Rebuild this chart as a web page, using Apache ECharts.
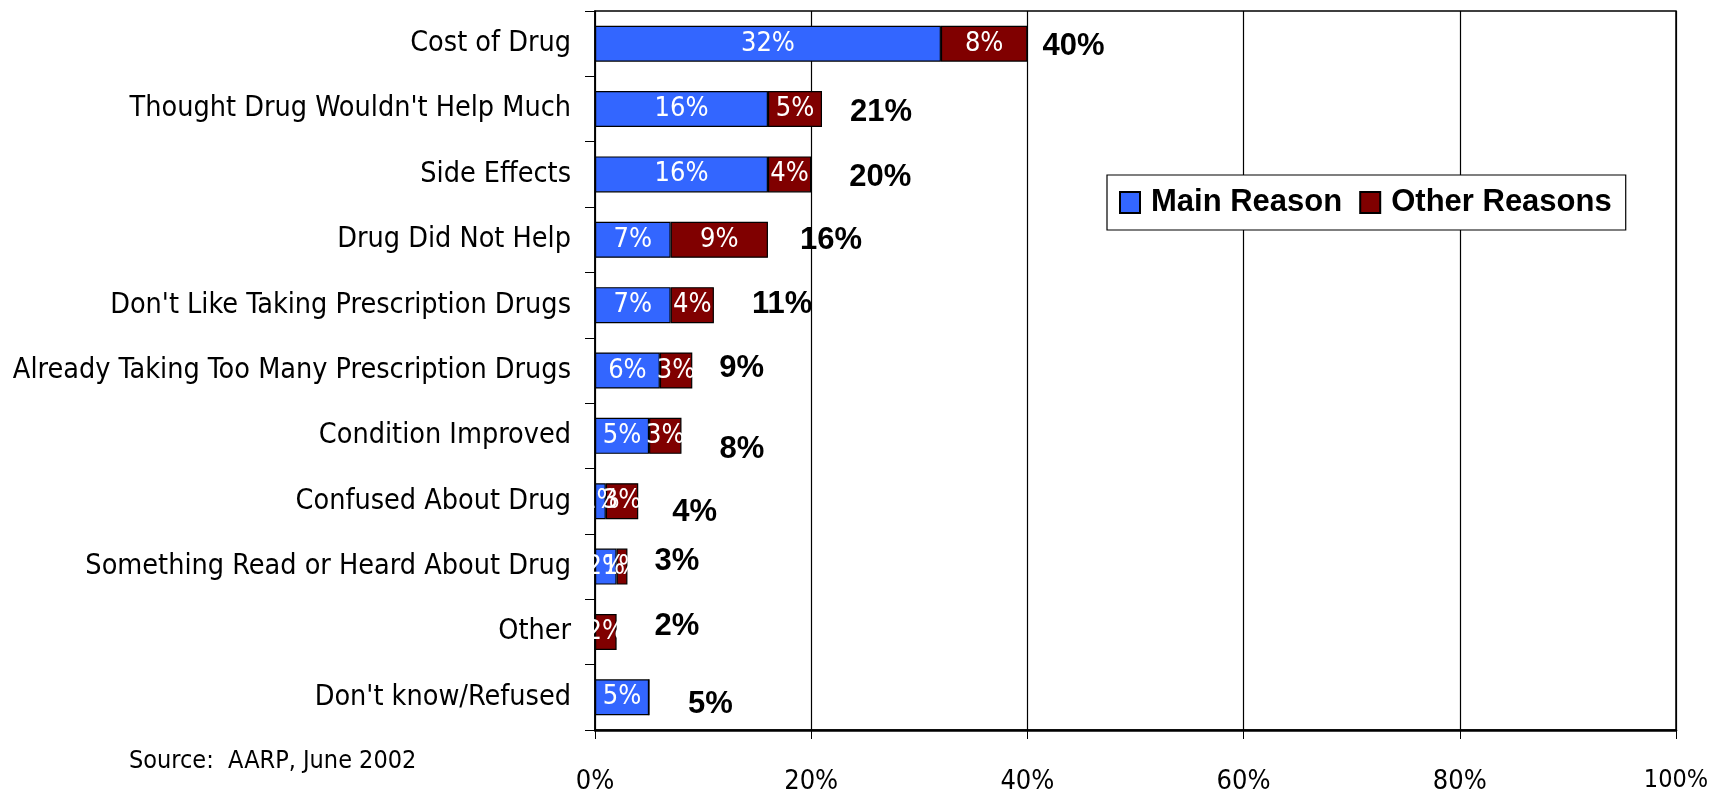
<!DOCTYPE html>
<html>
<head>
<meta charset="utf-8">
<script src="https://cdn.jsdelivr.net/npm/echarts@6/dist/echarts.min.js"></script>
<style>
html,body{margin:0;padding:0;background:#fff;}
#chart{width:1710px;height:789px;}
</style>
</head>
<body>
<div id="chart"></div>
<script>
// ---- data ----
const categories = [
  "Cost of Drug",
  "Thought Drug Wouldn't Help Much",
  "Side Effects",
  "Drug Did Not Help",
  "Don't Like Taking Prescription Drugs",
  "Already Taking Too Many Prescription Drugs",
  "Condition Improved",
  "Confused About Drug",
  "Something Read or Heard About Drug",
  "Other",
  "Don't know/Refused"
];
const mainReason   = [32, 16, 16, 7, 7, 6, 5, 1, 2, 0, 5];
const otherReasons = [8, 5, 4, 9, 4, 3, 3, 3, 1, 2, 0];
const totals       = [40, 21, 20, 16, 11, 9, 8, 4, 3, 2, 5];
const xTicks = [0, 20, 40, 60, 80, 100];
const seriesNames = ["Main Reason", "Other Reasons"];
const sourceText = "Source:  AARP, June 2002";

// ---- styling (label nudges, px) ----
const totalLabelShift = [
  [15, 3], [28, 3], [38, 3], [32, 1], [38, -1], [27, -2],
  [38, 14], [34, 11], [27, -5], [38, -6], [39, 7]
];
const NARROW = "'Liberation Sans Narrow','Arial Narrow','DejaVu Sans Condensed',sans-serif";
const BOLD = "'Liberation Sans',Arial,sans-serif";

const chart = echarts.init(document.getElementById('chart'));

const insideLabel = {
  show: true,
  position: 'inside',
  color: '#fff',
  fontFamily: NARROW,
  fontSize: 27,
  formatter: p => (p.value > 0 ? p.value + '%' : '')
};

const xMax = xTicks[xTicks.length - 1];

chart.setOption({
  animation: false,
  backgroundColor: '#fff',
  grid: {
    left: 595, right: 34, top: 11, bottom: 59,
    outerBoundsMode: 'none',
    containLabel: false,
    show: true, borderColor: '#000', borderWidth: 1.5, backgroundColor: 'transparent'
  },
  legend: {
    data: seriesNames,
    left: 1107, top: 175,
    orient: 'horizontal',
    icon: 'rect',
    backgroundColor: '#fff',
    borderColor: '#000', borderWidth: 1.2,
    padding: [12, 14, 12, 12],
    itemWidth: 20, itemHeight: 21, itemGap: 17,
    textStyle: { fontFamily: BOLD, fontWeight: 'bold', fontSize: 31, color: '#000', padding: [0, 0, 0, 6] }
  },
  xAxis: {
    type: 'value', min: xTicks[0], max: xMax, interval: xTicks[1] - xTicks[0],
    axisLine: { show: true, lineStyle: { color: '#000', width: 2.5 } },
    axisTick: { show: true, length: 9, lineStyle: { color: '#000', width: 1 } },
    splitLine: { show: true, lineStyle: { color: '#000', width: 1.2 } },
    axisLabel: {
      formatter: v => (v === xMax ? '{m|' + v + '%}' : v + '%'),
      fontFamily: NARROW, fontSize: 27, color: '#000', margin: 38,
      rich: { m: { fontFamily: NARROW, fontSize: 25, color: '#000' } }
    }
  },
  yAxis: {
    type: 'category', data: categories, inverse: true,
    axisLine: { show: true, lineStyle: { color: '#000', width: 1.5 } },
    axisTick: { show: true, length: 10, alignWithLabel: false, lineStyle: { color: '#000', width: 1 } },
    axisLabel: { fontFamily: NARROW, fontSize: 28.5, color: '#000', margin: 24 }
  },
  series: [
    {
      name: seriesNames[0], type: 'bar', stack: 'r', data: mainReason, barWidth: 36,
      itemStyle: { color: '#3366FF', borderColor: '#000', borderWidth: 1.2 },
      label: insideLabel
    },
    {
      name: seriesNames[1], type: 'bar', stack: 'r', data: otherReasons, barWidth: 36,
      itemStyle: { color: '#800000', borderColor: '#000', borderWidth: 1.2 },
      label: insideLabel
    },
    {
      name: 'Total', type: 'scatter', symbolSize: 0, silent: true,
      itemStyle: { opacity: 1 },
      data: totals.map((v, i) => ({
        value: [v, categories[i]],
        label: { offset: totalLabelShift[i] }
      })),
      label: {
        show: true, position: 'right', distance: 0,
        fontFamily: BOLD, fontWeight: 'bold', fontSize: 31, color: '#000', opacity: 1,
        formatter: p => p.value[0] + '%'
      },
      z: 5
    }
  ],
  graphic: [
    {
      type: 'text', left: 129, top: 749,
      style: { text: sourceText, fontFamily: NARROW, fontSize: 25, fill: '#000' }
    }
  ]
});
</script>
</body>
</html>
